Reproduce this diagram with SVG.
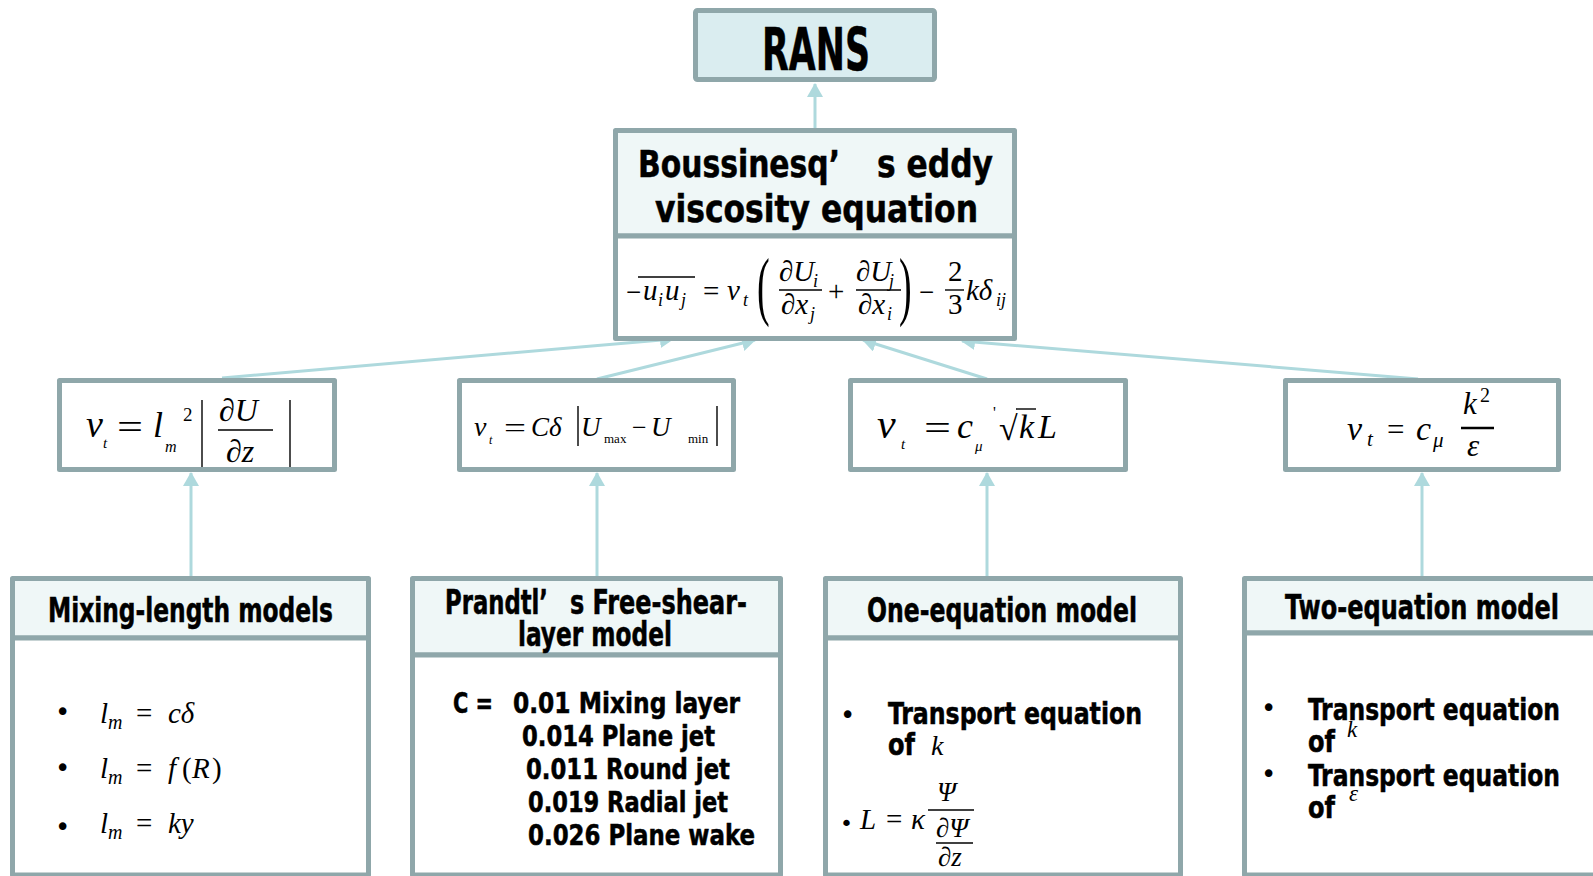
<svg xmlns="http://www.w3.org/2000/svg" width="1593" height="876" viewBox="0 0 1593 876">
<style>
.bx{stroke:#8FA7AA;stroke-width:5;stroke-linejoin:round}
.hd{fill:#EFF7F7}
.bd{fill:#FFFFFF}
.cn{stroke:#AED9DD;stroke-width:3;fill:none}
.t{font-family:"DejaVu Sans Condensed","DejaVu Sans","Liberation Sans",sans-serif;font-weight:bold;fill:#000;stroke:#000;stroke-width:0.5}
.m{font-family:"Liberation Serif","DejaVu Serif",serif;font-style:italic;fill:#000}
.r{font-family:"Liberation Serif","DejaVu Serif",serif;font-style:normal;fill:#000}
.bar{stroke:#000;stroke-width:1.4}
.bu{font-family:"DejaVu Sans",sans-serif;fill:#000}
</style>
<defs>
<marker id="ah" viewBox="0 0 14 16" refX="13" refY="8" markerWidth="14" markerHeight="16" markerUnits="userSpaceOnUse" orient="auto">
<path d="M0,0 L14,8 L0,16 Z" fill="#AED9DD"/>
</marker>
</defs>

<g id="connectors">
<line class="cn" x1="815" y1="128" x2="815" y2="84" marker-end="url(#ah)"/>
<line class="cn" x1="222" y1="378" x2="673" y2="339" marker-end="url(#ah)"/>
<line class="cn" x1="597" y1="379" x2="755" y2="340" marker-end="url(#ah)"/>
<line class="cn" x1="987" y1="379" x2="863" y2="340" marker-end="url(#ah)"/>
<line class="cn" x1="1418" y1="379" x2="962" y2="341" marker-end="url(#ah)"/>
<line class="cn" x1="191" y1="576" x2="191" y2="473" marker-end="url(#ah)"/>
<line class="cn" x1="597" y1="576" x2="597" y2="473" marker-end="url(#ah)"/>
<line class="cn" x1="987" y1="576" x2="987" y2="473" marker-end="url(#ah)"/>
<line class="cn" x1="1422" y1="576" x2="1422" y2="473" marker-end="url(#ah)"/>
</g>

<g id="rans">
<rect class="bx" x="695.5" y="10.5" width="239" height="69" rx="2" fill="#DAEDF0"/>
<text class="t" x="762" y="70" font-size="58" textLength="108" lengthAdjust="spacingAndGlyphs">RANS</text>
</g>

<g id="boussinesq">
<rect class="bx hd" x="615.5" y="130.5" width="399" height="105.5"/>
<rect class="bx bd" x="615.5" y="236" width="399" height="102.5"/>
<text class="t" x="638" y="177" font-size="37" textLength="202" lengthAdjust="spacingAndGlyphs">Boussinesq’</text>
<text class="t" x="877" y="177" font-size="37" textLength="116" lengthAdjust="spacingAndGlyphs">s eddy</text>
<text class="t" x="655" y="222" font-size="37" textLength="323" lengthAdjust="spacingAndGlyphs">viscosity equation</text>
<g font-size="29">
<text class="r" x="626" y="301" font-size="27">−</text>
<line class="bar" x1="638" y1="277" x2="695" y2="277"/>
<text class="m" x="643" y="300">u</text><text class="m" x="658" y="306" font-size="18">i</text>
<text class="m" x="665" y="300">u</text><text class="m" x="681" y="306" font-size="18">j</text>
<text class="r" x="703" y="301">=</text>
<text class="m" x="727" y="300">ν</text><text class="m" x="743" y="306" font-size="18">t</text>
<text class="r" transform="translate(757,311) scale(0.5,1)" font-size="76">(</text>
<text class="m" x="779" y="281">∂U</text><text class="m" x="813" y="287" font-size="18">i</text>
<line class="bar" x1="779" y1="290" x2="822" y2="290"/>
<text class="m" x="781" y="314">∂x</text><text class="m" x="810" y="320" font-size="18">j</text>
<text class="r" x="828" y="301">+</text>
<text class="m" x="856" y="281">∂U</text><text class="m" x="889" y="287" font-size="18">j</text>
<line class="bar" x1="856" y1="290" x2="901" y2="290"/>
<text class="m" x="858" y="314">∂x</text><text class="m" x="887" y="320" font-size="18">i</text>
<text class="r" transform="translate(899,311) scale(0.5,1)" font-size="76">)</text>
<text class="r" x="919" y="301" font-size="27">−</text>
<text class="r" x="948" y="281">2</text>
<line class="bar" x1="945" y1="290" x2="964" y2="290"/>
<text class="r" x="948" y="314">3</text>
<text class="m" x="966" y="300">kδ</text><text class="m" x="996" y="306" font-size="18">ij</text>
</g>
</g>

<g id="eq-mixing">
<rect class="bx bd" x="59.5" y="380.5" width="275" height="89"/>
<text class="m" x="86" y="437" font-size="38">ν</text>
<text class="m" x="103" y="448" font-size="15">t</text>
<text class="r" x="117" y="439" font-size="36" textLength="26" lengthAdjust="spacingAndGlyphs">=</text>
<text class="m" x="153" y="437" font-size="36">l</text>
<text class="m" x="165" y="452" font-size="16">m</text>
<text class="r" x="183" y="421" font-size="19">2</text>
<line class="bar" x1="202" y1="400" x2="202" y2="467"/>
<text class="m" x="219" y="421" font-size="32">∂U</text>
<line class="bar" x1="218" y1="430" x2="273" y2="430"/>
<text class="m" x="226" y="462" font-size="32">∂z</text>
<line class="bar" x1="290" y1="400" x2="290" y2="467"/>
</g>

<g id="eq-prandtl">
<rect class="bx bd" x="459.5" y="380.5" width="274" height="89"/>
<text class="m" x="474" y="436" font-size="28">ν</text>
<text class="m" x="489" y="444" font-size="12">t</text>
<text class="r" x="504" y="437" font-size="28" textLength="22" lengthAdjust="spacingAndGlyphs">=</text>
<text class="m" x="531" y="436" font-size="27">Cδ</text>
<line class="bar" x1="578" y1="406" x2="578" y2="446"/>
<text class="m" x="581" y="436" font-size="27">U</text>
<text class="r" x="604" y="443" font-size="13">max</text>
<text class="r" x="632" y="436" font-size="26">−</text>
<text class="m" x="651" y="436" font-size="27">U</text>
<text class="r" x="688" y="443" font-size="13">min</text>
<line class="bar" x1="717" y1="406" x2="717" y2="446"/>
</g>

<g id="eq-one">
<rect class="bx bd" x="850.5" y="380.5" width="275" height="89"/>
<text class="m" x="877" y="438" font-size="42">ν</text>
<text class="m" x="901" y="449" font-size="15">t</text>
<text class="r" x="924" y="440" font-size="36" textLength="27" lengthAdjust="spacingAndGlyphs">=</text>
<text class="m" x="957" y="438" font-size="36">c</text>
<text class="m" x="975" y="451" font-size="15">μ</text>
<text class="r" x="993" y="418" font-size="16">'</text>
<text class="r" x="999" y="440" font-size="34">√</text>
<line class="bar" x1="1016" y1="409" x2="1036" y2="409"/>
<text class="m" x="1019" y="438" font-size="34">k</text>
<text class="m" x="1038" y="438" font-size="34">L</text>
</g>

<g id="eq-two">
<rect class="bx bd" x="1285.5" y="380.5" width="273" height="89"/>
<text class="m" x="1347" y="440" font-size="34">ν</text>
<text class="m" x="1367" y="446" font-size="21">t</text>
<text class="r" x="1387" y="440" font-size="31">=</text>
<text class="m" x="1416" y="440" font-size="34">c</text>
<text class="m" x="1433" y="447" font-size="21">μ</text>
<text class="m" x="1463" y="414" font-size="31">k</text>
<text class="r" x="1480" y="402" font-size="20">2</text>
<line x1="1461" y1="428" x2="1494" y2="428" stroke="#000" stroke-width="2.5"/>
<text class="m" x="1467" y="456" font-size="31">ε</text>
</g>

<g id="mixing-length">
<rect class="bx hd" x="12.5" y="578.5" width="356" height="59.5"/>
<rect class="bx bd" x="12.5" y="638" width="356" height="237"/>
<text class="t" x="48" y="622" font-size="34" textLength="285" lengthAdjust="spacingAndGlyphs">Mixing-length models</text>
<text class="bu" x="55" y="721" font-size="26">•</text>
<text class="bu" x="55" y="777" font-size="26">•</text>
<text class="bu" x="55" y="836" font-size="26">•</text>
<g font-size="29">
<text class="m" x="100" y="723">l</text><text class="m" x="108" y="729" font-size="20">m</text>
<text class="r" x="136" y="723">=</text>
<text class="m" x="168" y="723">cδ</text>
<text class="m" x="100" y="778">l</text><text class="m" x="108" y="784" font-size="20">m</text>
<text class="r" x="136" y="778">=</text>
<text class="m" x="168" y="778">f</text><text class="r" x="182" y="778">(</text><text class="m" x="192" y="778">R</text><text class="r" x="212" y="778">)</text>
<text class="m" x="100" y="833">l</text><text class="m" x="108" y="839" font-size="20">m</text>
<text class="r" x="136" y="833">=</text>
<text class="m" x="168" y="833">ky</text>
</g>
</g>

<g id="prandtl">
<rect class="bx hd" x="412.5" y="578.5" width="368" height="76.5"/>
<rect class="bx bd" x="412.5" y="655" width="368" height="220"/>
<text class="t" x="445" y="614" font-size="33" textLength="103" lengthAdjust="spacingAndGlyphs">Prandtl’</text>
<text class="t" x="570" y="614" font-size="33" textLength="177" lengthAdjust="spacingAndGlyphs">s Free-shear-</text>
<text class="t" x="518" y="646" font-size="33" textLength="154" lengthAdjust="spacingAndGlyphs">layer model</text>
<g font-size="29">
<text class="t" x="453" y="713" textLength="40" lengthAdjust="spacingAndGlyphs">C =</text>
<text class="t" x="513" y="713" textLength="227" lengthAdjust="spacingAndGlyphs">0.01 Mixing  layer</text>
<text class="t" x="522" y="746" textLength="193" lengthAdjust="spacingAndGlyphs">0.014 Plane jet</text>
<text class="t" x="526" y="779" textLength="204" lengthAdjust="spacingAndGlyphs">0.011 Round jet</text>
<text class="t" x="528" y="812" textLength="200" lengthAdjust="spacingAndGlyphs">0.019 Radial jet</text>
<text class="t" x="528" y="845" textLength="227" lengthAdjust="spacingAndGlyphs">0.026 Plane wake</text>
</g>
</g>

<g id="one-equation">
<rect class="bx hd" x="825.5" y="578.5" width="355" height="59.5"/>
<rect class="bx bd" x="825.5" y="638" width="355" height="237"/>
<text class="t" x="867" y="622" font-size="34" textLength="270" lengthAdjust="spacingAndGlyphs">One-equation model</text>
<text class="bu" x="840" y="724" font-size="26">•</text>
<text class="t" x="888" y="724" font-size="31" textLength="254" lengthAdjust="spacingAndGlyphs">Transport equation</text>
<text class="t" x="888" y="755" font-size="31" textLength="27" lengthAdjust="spacingAndGlyphs">of</text>
<text class="m" x="931" y="755" font-size="28">k</text>
<text class="bu" x="840" y="831" font-size="22">•</text>
<text class="m" x="860" y="829" font-size="29">L</text>
<text class="r" x="886" y="829" font-size="29">=</text>
<text class="m" x="911" y="829" font-size="29">κ</text>
<text class="m" x="937" y="801" font-size="27">Ψ</text>
<line class="bar" x1="928" y1="810" x2="974" y2="810"/>
<text class="m" x="936" y="837" font-size="27">∂Ψ</text>
<line class="bar" x1="936" y1="843" x2="973" y2="843"/>
<text class="m" x="938" y="866" font-size="27">∂z</text>
</g>

<g id="two-equation">
<rect class="bx hd" x="1244.5" y="578.5" width="356" height="54.5"/>
<rect class="bx bd" x="1244.5" y="633" width="356" height="242"/>
<text class="t" x="1285" y="619" font-size="34" textLength="274" lengthAdjust="spacingAndGlyphs">Two-equation model</text>
<text class="bu" x="1261" y="717" font-size="26">•</text>
<text class="t" x="1308" y="720" font-size="31" textLength="252" lengthAdjust="spacingAndGlyphs">Transport equation</text>
<text class="t" x="1308" y="752" font-size="31" textLength="27" lengthAdjust="spacingAndGlyphs">of</text>
<text class="m" x="1347" y="737" font-size="23">k</text>
<text class="bu" x="1261" y="783" font-size="26">•</text>
<text class="t" x="1308" y="786" font-size="31" textLength="252" lengthAdjust="spacingAndGlyphs">Transport equation</text>
<text class="t" x="1308" y="818" font-size="31" textLength="27" lengthAdjust="spacingAndGlyphs">of</text>
<text class="m" x="1349" y="801" font-size="23">ε</text>
</g>
</svg>
